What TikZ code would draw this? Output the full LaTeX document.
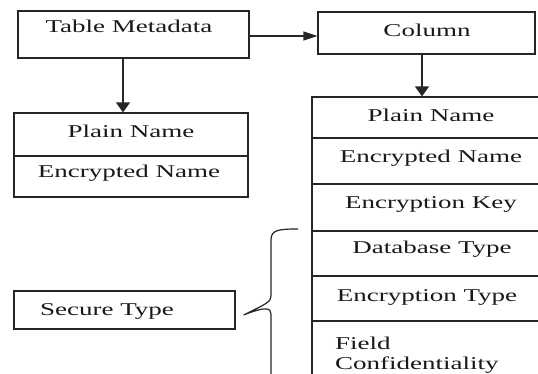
\documentclass[tikz,border=0pt]{standalone}
\usepackage{fontspec}
\setmainfont{Liberation Serif}
\usetikzlibrary{arrows.meta}
\newcommand{\sxt}[1]{\scalebox{1.5}[1]{#1}}
\tikzset{
  box/.style={draw=black!85, line width=1.2pt, rectangle, inner sep=0pt},
  lbl/.style={inner sep=0pt, font=\fontsize{18}{21}\selectfont, text=black!90},
  conn/.style={draw=black!85, line width=1.2pt},
  varrow/.style={conn, -{Triangle[length=10pt,width=14pt]}},
  harrow/.style={conn, -{Triangle[length=14pt,width=9pt]}}
}
\begin{document}
\begin{tikzpicture}[x=1pt,y=-1pt]
\useasboundingbox[fill=white] (0,0) rectangle (538,373);
% boxes
\node[box, minimum width=231pt, minimum height=47pt] (tm) at (133.5,34.5) {};
\node[box, minimum width=217pt, minimum height=42pt] (col) at (426.5,33) {};
\node[box, minimum width=234pt, minimum height=43pt] (lp) at (131,134.5) {};
\node[box, minimum width=234pt, minimum height=41pt] (le) at (131,176.5) {};
\node[box, minimum width=248pt, minimum height=41pt] (r1) at (436,117.5) {};
\node[box, minimum width=248pt, minimum height=46pt] (r2) at (436,161) {};
\node[box, minimum width=248pt, minimum height=47pt] (r3) at (436,207.5) {};
\node[box, minimum width=248pt, minimum height=45pt] (r4) at (436,253.5) {};
\node[box, minimum width=248pt, minimum height=45pt] (r5) at (436,298.5) {};
\node[box, minimum width=248pt, minimum height=99pt] (r6) at (436,370.5) {};
\node[box, minimum width=221pt, minimum height=38pt] (st) at (124.5,310) {};
% labels
\node[lbl] (tmL) at (129,26) {\sxt{Table Metadata}};
\node[lbl] (colL) at (427,30) {\sxt{Column}};
\node[lbl] (lpL) at (131,131) {\sxt{Plain Name}};
\node[lbl] (leL) at (129,173) {\sxt{Encrypted Name}};
\node[lbl] (r1L) at (431,115) {\sxt{Plain Name}};
\node[lbl] (r2L) at (431,158) {\sxt{Encrypted Name}};
\node[lbl] (r3L) at (431,204) {\sxt{Encryption Key}};
\node[lbl] (r4L) at (432,249) {\sxt{Database Type}};
\node[lbl] (r5L) at (427,297) {\sxt{Encryption Type}};
\node[lbl, anchor=west] (r6La) at (335,343) {\sxt{Field}};
\node[lbl, anchor=west] (r6Lb) at (335,365) {\sxt{Confidentiality}};
\node[lbl] (stL) at (107,311) {\sxt{Secure Type}};
% connectors
\draw[harrow] ([yshift=-1.5pt]tm.east) -- ([yshift=-1.5pt]tm.east -| col.west);
\draw[varrow] ([xshift=-10.5pt]tm.south) -- ([xshift=-10.5pt]tm.south |- lp.north);
\draw[varrow] ([xshift=-4.5pt]col.south) -- ([xshift=-4.5pt]col.south |- r1.north);
% brace
\coordinate (bt) at ([xshift=8pt,yshift=-5pt]st.east);
\draw[conn] (298,229) .. controls (278,229) and (271,230) .. (271,240)
  -- (271,296) .. controls (271,302) and (266,304) .. (bt)
  .. controls (266,306) and (271,308) .. (271,314) -- (271,390);
\end{tikzpicture}
\end{document}
